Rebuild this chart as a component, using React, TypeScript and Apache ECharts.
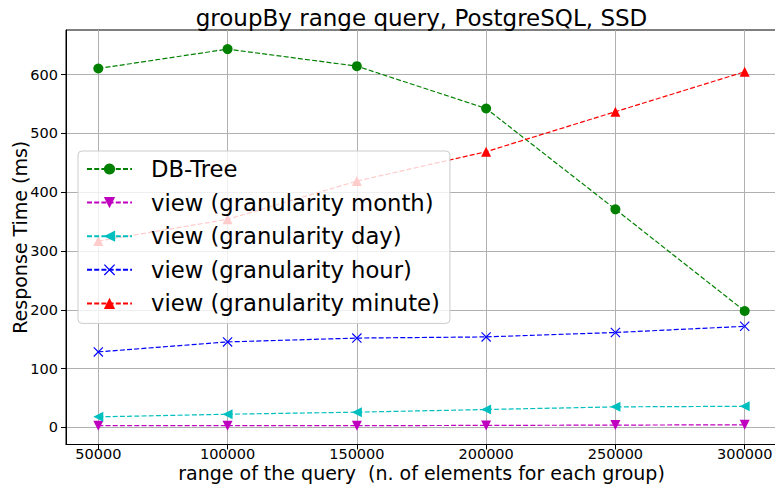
import React, { useEffect, useRef } from "react";
import * as echarts from "echarts";

const ranges = [50000, 100000, 150000, 200000, 250000, 300000];
const dbTree = [610.5, 643.5, 614.5, 542.5, 371, 198];
const viewMonth = [3, 3, 3, 3.5, 4, 4.5];
const viewDay = [18, 22.5, 26, 30.5, 35, 36];
const viewHour = [128.5, 145.5, 152, 154, 161.5, 172];
const viewMinute = [317, 354, 419, 469, 537, 605];
const xTicks = [50000, 100000, 150000, 200000, 250000, 300000];
const yTicks = [0, 100, 200, 300, 400, 500, 600];

const seriesNames = [
  "DB-Tree",
  "view (granularity month)",
  "view (granularity day)",
  "view (granularity hour)",
  "view (granularity minute)",
];

const FONT = "DejaVu Sans";

export default function App() {
  const ref = useRef<HTMLDivElement>(null);
  useEffect(() => {
    if (!ref.current) return;
    const chart = echarts.init(ref.current, null, { renderer: "svg" });
    const pair = (ys: number[]) => ranges.map((x, i) => [x, ys[i]]);
    const mk = (
      name: string,
      ys: number[],
      color: string,
      symbol: string,
      size: number
    ) => ({
      name,
      type: "line",
      data: pair(ys),
      symbol,
      symbolSize: size,
      showSymbol: true,
      lineStyle: { color, width: 1.2, type: [5, 2.2] },
      itemStyle: { color, borderWidth: 0 },
      emphasis: { disabled: true },
    });
    chart.setOption({
      animation: false,
      title: {
        text: "groupBy range query, PostgreSQL, SSD",
        left: 421.5,
        top: 6,
        textAlign: "center",
        padding: 0,
        textStyle: { fontFamily: FONT, fontSize: 23, fontWeight: "normal", color: "#000" },
      },
      grid: {
        left: 66,
        top: 30,
        width: 711,
        height: 414.5,
        outerBoundsMode: "none",
        containLabel: false,
        show: true,
        borderColor: "#000",
        borderWidth: 1,
        backgroundColor: "transparent",
      },
      legend: {
        orient: "vertical",
        left: 78,
        top: 151,
        padding: [6, 10, 8, 8],
        itemWidth: 45,
        itemHeight: 14,
        itemGap: 9.6,
        backgroundColor: "rgba(255,255,255,0.8)",
        borderColor: "#cccccc",
        borderWidth: 1,
        borderRadius: 4,
        z: 10,
        data: seriesNames,
        textStyle: {
          fontFamily: FONT,
          fontSize: 22.7,
          color: "#000",
          lineHeight: 24,
          padding: [0, 0, 0, 14],
        },
      },
      xAxis: {
        type: "value",
        min: 37500,
        max: 312500,
        name: "range of the query  (n. of elements for each group)",
        nameLocation: "middle",
        nameGap: 18.5,
        nameMoveOverlap: false,
        nameTextStyle: { fontFamily: FONT, fontSize: 19, color: "#000" },
        axisLine: { show: true, onZero: false, lineStyle: { color: "#000", width: 1 } },
        axisTick: { show: true, length: 5, lineStyle: { color: "#000" }, customValues: xTicks },
        axisLabel: {
          customValues: xTicks,
          formatter: (v: number) => String(v),
          fontFamily: FONT,
          fontSize: 14.5,
          color: "#000",
          margin: 2,
        },
        splitLine: { show: true, lineStyle: { color: "#b0b0b0", width: 1 } },
      },
      yAxis: {
        type: "value",
        min: -29,
        max: 676,
        name: "Response Time (ms)",
        nameLocation: "middle",
        nameGap: 36.5,
        nameMoveOverlap: false,
        nameTextStyle: { fontFamily: FONT, fontSize: 19, color: "#000" },
        axisLine: { show: true, onZero: false, lineStyle: { color: "#000", width: 1 } },
        axisTick: { show: true, length: 5, lineStyle: { color: "#000" }, customValues: yTicks },
        axisLabel: {
          customValues: yTicks,
          formatter: (v: number) => String(v),
          fontFamily: FONT,
          fontSize: 14.5,
          color: "#000",
          margin: 8,
        },
        splitLine: { show: true, lineStyle: { color: "#b0b0b0", width: 1 } },
      },
      series: [
        mk(seriesNames[0], dbTree, "#008000", "circle", 10),
        mk(seriesNames[1], viewMonth, "#bf00bf", "path://M0,0 L10,0 L5,10 Z", 10),
        mk(seriesNames[2], viewDay, "#00bfbf", "path://M0,5 L10,0 L10,10 Z", 10),
        mk(
          seriesNames[3],
          viewHour,
          "#0000ff",
          "path://M0,0.8 L0.8,0 L10,9.2 L9.2,10 Z M9.2,0 L10,0.8 L0.8,10 L0,9.2 Z",
          10
        ),
        mk(seriesNames[4], viewMinute, "#ff0000", "triangle", 10),
      ],
    });
    return () => chart.dispose();
  }, []);
  return (
    <div
      ref={ref}
      style={{ position: "fixed", left: 0, top: 0, width: 775, height: 489, background: "#fff" }}
    />
  );
}
